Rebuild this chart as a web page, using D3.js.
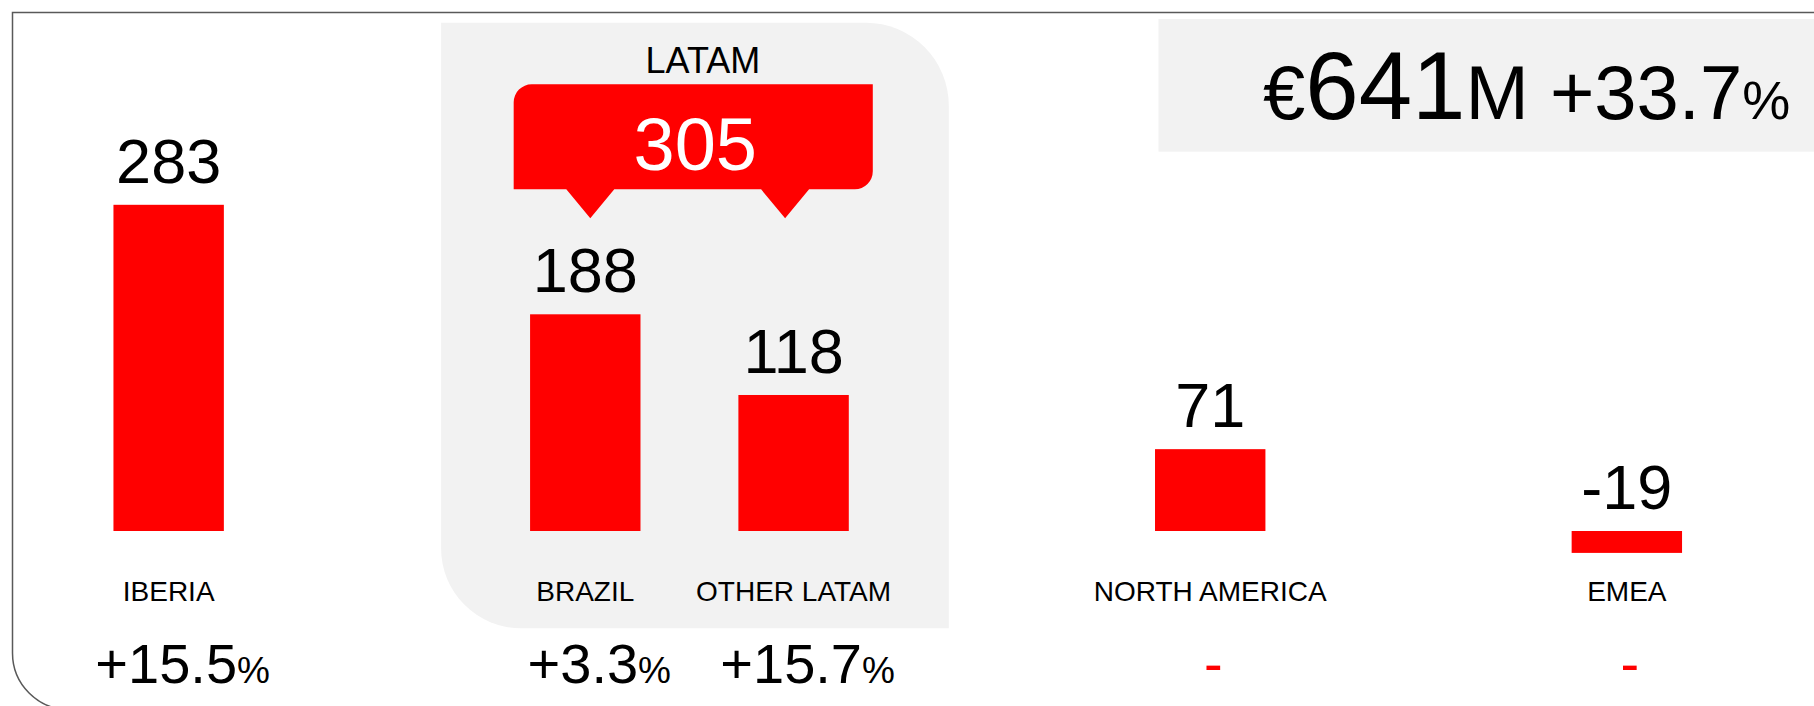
<!DOCTYPE html>
<meta charset="utf-8">
<style>
  body { margin: 0; background: #fff; }
  text { font-family: "Liberation Sans", Arial, sans-serif; }
</style>
<body>
<script src="https://cdn.jsdelivr.net/npm/d3@7"></script>
<script>

// data
var categories = ["IBERIA", "BRAZIL", "OTHER LATAM", "NORTH AMERICA", "EMEA"];
var values = [283, 188, 118, 71, -19];
var growth = ["+15.5", "+3.3", "+15.7", "-", "-"];
var latamTotal = 305;
var totalValue = 641;
var totalGrowth = "+33.7";

var width = 1814,
    height = 706,
    red = "#ff0000",
    grey = "#f2f2f2";

// empty slots keep the gaps between the groups
var slots = ["IBERIA", "gap1", "BRAZIL", "OTHER LATAM", "gap2", "NORTH AMERICA", "gap3", "EMEA"];

var svg = d3.select("body").append("svg")
    .attr("width", width)
    .attr("height", height);

var x = d3.scaleBand()
    .domain(slots)
    .range([64.5, 1731])
    .paddingInner(0.47)
    .paddingOuter(0.235);

var y = d3.scaleLinear()
    .domain([0, 283])
    .range([531, 204.8]);

var bw = x.bandwidth();
function cx(c) { return x(c) + bw / 2; }

// frame
svg.append("path")
    .attr("d", "M1830,12.5 H12.5 V653 A56.6,56.6 0 0 0 69.1,709.6 H1830")
    .attr("fill", "none")
    .attr("stroke", "#595959")
    .attr("stroke-width", 1.5);

// latam panel
var pL = x("BRAZIL") - 89, pR = x("OTHER LATAM") + bw + 100, pT = 22.7, pB = 628.3;
svg.append("path")
    .attr("d", "M" + pL + "," + pT + " H" + (pR - 83) +
      " A83,83 0 0 1 " + pR + "," + (pT + 83) + " V" + pB +
      " H" + (pL + 80) + " A80,80 0 0 1 " + pL + "," + (pB - 80) + " Z")
    .attr("fill", grey);

svg.append("text")
    .attr("x", (pL + pR) / 2 + 8)
    .attr("y", 72.7)
    .attr("text-anchor", "middle")
    .attr("font-size", 36)
    .text("LATAM");

// callout with two pointers
var cL = x("BRAZIL") - 16.4, cR = x("OTHER LATAM") + bw + 24, cT = 84.3, cB = 189.3, tipY = 218.3, r = 18;
var t1 = cx("BRAZIL") + 5, t2 = cx("OTHER LATAM") - 8.5;
svg.append("path")
    .attr("d", "M" + cL + "," + (cT + r) + " A" + r + "," + r + " 0 0 1 " + (cL + r) + "," + cT +
      " H" + cR + " V" + (cB - r) + " A" + r + "," + r + " 0 0 1 " + (cR - r) + "," + cB +
      " H" + (t2 + 24) + " L" + t2 + "," + tipY + " L" + (t2 - 24) + "," + cB +
      " H" + (t1 + 24) + " L" + t1 + "," + tipY + " L" + (t1 - 24) + "," + cB +
      " H" + cL + " Z")
    .attr("fill", red);

svg.append("text")
    .attr("x", (cL + cR) / 2 + 2)
    .attr("y", 170)
    .attr("text-anchor", "middle")
    .attr("font-size", 74)
    .attr("fill", "#fff")
    .text(latamTotal);

// total box
svg.append("rect")
    .attr("x", 1158.5)
    .attr("y", 19)
    .attr("width", width - 1158.5)
    .attr("height", 132.7)
    .attr("fill", grey);

var tot = svg.append("text")
    .attr("x", 1263)
    .attr("y", 119.3);
tot.append("tspan").attr("font-size", 76).text("€");
tot.append("tspan").attr("font-size", 96).text(totalValue);
tot.append("tspan").attr("font-size", 76).text("M " + totalGrowth);
tot.append("tspan").attr("font-size", 54).text("%");

// bars
var rows = categories.map(function(c, i) {
  return { name: c, value: values[i], growth: growth[i] };
});

svg.append("g")
  .selectAll("rect")
  .data(rows)
  .enter().append("rect")
    .attr("x", function(d) { return x(d.name); })
    .attr("y", function(d) { return Math.min(y(d.value), y(0)); })
    .attr("width", bw)
    .attr("height", function(d) { return Math.abs(y(d.value) - y(0)); })
    .attr("fill", red);

svg.append("g")
  .selectAll("text")
  .data(rows)
  .enter().append("text")
    .attr("x", function(d) { return cx(d.name); })
    .attr("y", function(d) { return Math.min(y(d.value), y(0)) - 22; })
    .attr("text-anchor", "middle")
    .attr("font-size", 63)
    .text(function(d) { return d.value; });

// category names
svg.append("g")
  .selectAll("text")
  .data(rows)
  .enter().append("text")
    .attr("x", function(d) { return cx(d.name); })
    .attr("y", 601)
    .attr("text-anchor", "middle")
    .attr("font-size", 28)
    .text(function(d) { return d.name; });

// growth row
var g = svg.append("g")
  .selectAll("text")
  .data(rows)
  .enter().append("text")
    .attr("x", function(d) { return d.growth === "-" ? cx(d.name) + 3 : cx(d.name) + 14; })
    .attr("y", 683.3)
    .attr("text-anchor", "middle")
    .attr("font-size", 56)
    .attr("fill", function(d) { return d.growth === "-" ? red : "#000"; });

g.append("tspan").text(function(d) { return d.growth; });
g.filter(function(d) { return d.growth !== "-"; })
  .append("tspan")
    .attr("font-size", 37)
    .text("%");

</script>
</body>
